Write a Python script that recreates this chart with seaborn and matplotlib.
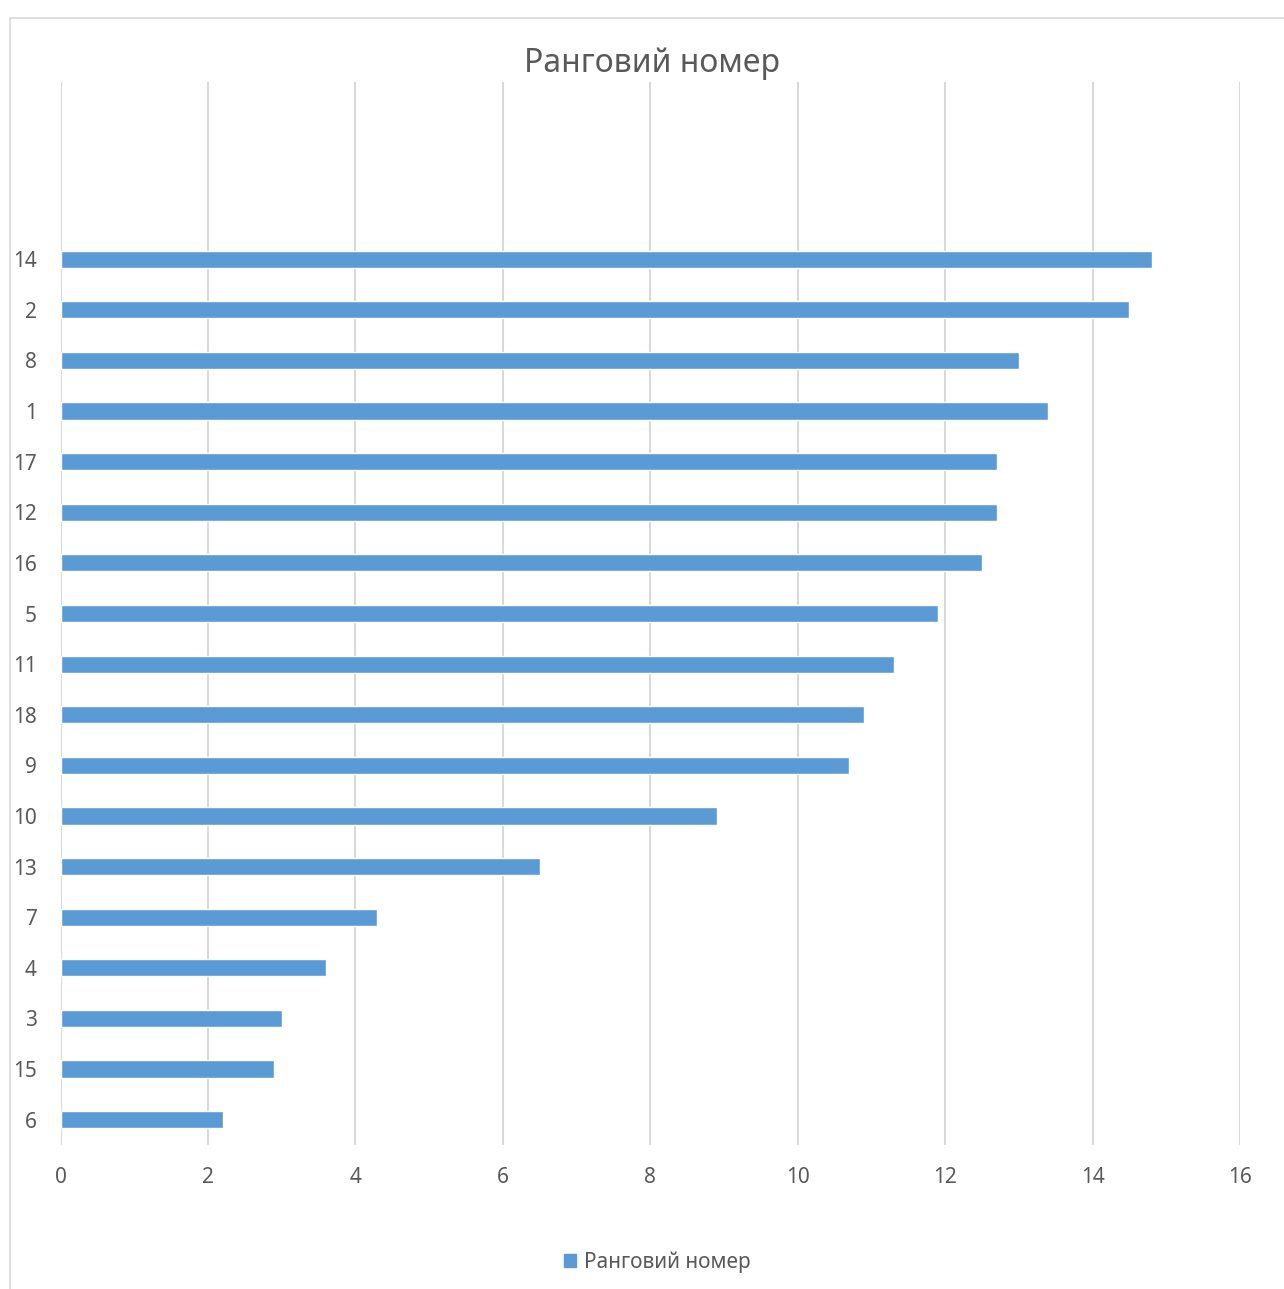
import matplotlib
matplotlib.use("Agg")
import matplotlib.pyplot as plt
import matplotlib.patches as mpatches
import seaborn as sns
import pandas as pd

categories = ["14", "2", "8", "1", "17", "12", "16", "5", "11", "18", "9", "10", "13", "7", "4", "3", "15", "6"]
values = [14.8, 14.5, 13.0, 13.4, 12.7, 12.7, 12.5, 11.9, 11.3, 10.9, 10.7, 8.9, 6.5, 4.3, 3.6, 3.0, 2.9, 2.2]
series_name = "Ранговий номер"
x_ticks = [0, 2, 4, 6, 8, 10, 12, 14, 16]

sns.set_theme(style="white")
plt.rcParams["font.family"] = ["Noto Sans", "DejaVu Sans"]

df = pd.DataFrame({"cat": categories, "val": values})

W, H = 1284, 1289
fig = plt.figure(figsize=(W / 100, H / 100), dpi=100)
ax = fig.add_axes([60.5 / W, 1 - 1145 / H, (1240 - 60.5) / W, (1145 - 82) / H])

sns.barplot(data=df, x="val", y="cat", order=categories, orient="h",
            color="#5B9BD5", saturation=1, width=0.34, ax=ax)

ax.set_xlim(0, 16)
ax.set_ylim(len(categories) - 0.5, -3.5)
ax.set_xticks(x_ticks)
ax.set_xticklabels([str(t) for t in x_ticks])
ax.set_xlabel("")
ax.set_ylabel("")
ax.grid(axis="x", color="#d9d9d9", linewidth=1.5)
ax.grid(axis="y", visible=False)
ax.set_axisbelow(True)
for s in ax.spines.values():
    s.set_visible(False)
ax.tick_params(axis="both", length=0, colors="#595959", labelsize=15)
ax.tick_params(axis="y", pad=17)
ax.tick_params(axis="x", pad=16)

fig.text(652 / W, 1 - 63 / H, series_name, ha="center", va="center",
         fontsize=23, color="#595959")

leg = fig.legend(handles=[mpatches.Patch(color="#5B9BD5", label=series_name)],
                 loc="center", bbox_to_anchor=(657 / W, 1 - 1262 / H),
                 frameon=False, fontsize=15, handlelength=0.6, handleheight=0.6,
                 handletextpad=0.35, labelcolor="#595959")

border = mpatches.Rectangle((10 / W, -0.1), 1.2, (H - 18) / H + 0.1,
                            transform=fig.transFigure, fill=False,
                            edgecolor="#d9d9d9", linewidth=1.2)
fig.patches.append(border)

fig.savefig("out.png", dpi=100)
